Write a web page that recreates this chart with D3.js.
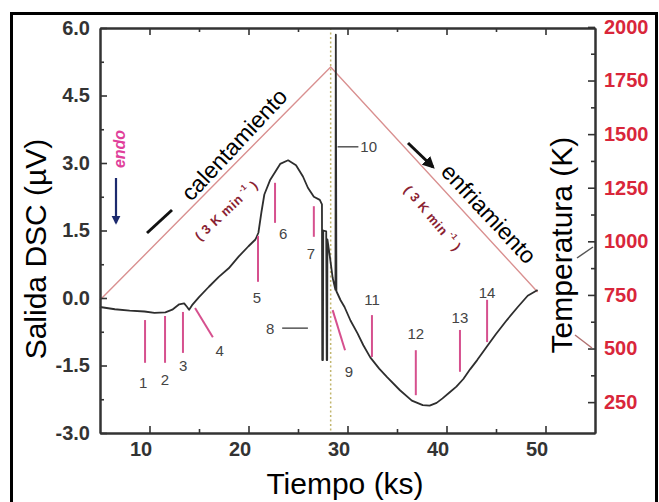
<!DOCTYPE html>
<html>
<head>
<meta charset="utf-8">
<script src="https://cdn.jsdelivr.net/npm/d3@7"></script>
<style>
  body { margin: 0; background: #fff; }
  svg { display: block; font-family: "Liberation Sans", Arial, sans-serif; }
</style>
</head>
<body>
<svg width="659" height="502"></svg>
<script>
// DSC signal (µV) vs time (ks)
const dscTime = [5.0, 6.5, 8.0, 9.5, 10.5, 11.6, 12.3, 13.0, 13.5, 13.8, 14.0, 14.3, 15.0, 16.0, 17.0, 18.0, 19.0, 20.0, 20.7, 21.0, 21.3, 21.6, 22.2, 23.2, 24.0, 24.8, 25.5, 26.0, 26.6, 27.2, 27.42, 27.45, 27.52, 27.55, 27.85, 27.9, 27.95, 27.97, 28.2, 28.5, 28.78, 28.82, 28.88, 29.3, 29.7, 30.3, 31.0, 31.6, 32.3, 33.2, 34.0, 35.3, 36.5, 37.6, 38.3, 39.0, 39.6, 40.3, 41.0, 41.7, 42.4, 43.1, 44.1, 45.0, 46.1, 47.2, 48.2, 49.2];
const dscSignal = [-0.2, -0.25, -0.28, -0.3, -0.33, -0.32, -0.26, -0.14, -0.12, -0.2, -0.26, -0.16, 0.02, 0.25, 0.47, 0.66, 0.92, 1.15, 1.3, 1.45, 1.9, 2.3, 2.63, 2.98, 3.06, 2.95, 2.7, 2.45, 2.25, 2.18, 2.08, -1.38, -1.38, 1.5, 1.48, -1.38, -1.38, 1.3, 0.95, 0.45, 0.18, 5.85, 0.15, -0.05, -0.2, -0.5, -0.78, -1.05, -1.32, -1.57, -1.76, -2.05, -2.28, -2.38, -2.39, -2.33, -2.23, -2.1, -1.97, -1.8, -1.58, -1.38, -1.07, -0.8, -0.49, -0.2, 0.05, 0.18];

// temperature program (K) vs time (ks)
const tempTime = [5.0, 28.3, 49.2];
const tempK = [726, 1813, 764];

// numbered pink markers: line from (t0,v0) to (t1,v1), label at (lt,lv)
const markId = ['1', '2', '3', '4', '5', '6', '7', '9', '11', '12', '13', '14'];
const markT0 = [9.55, 11.57, 13.38, 14.6, 20.96, 22.68, 26.6, 28.5, 32.47, 36.9, 41.36, 44.1];
const markV0 = [-0.49, -0.4, -0.31, -0.22, 1.38, 2.56, 2.04, -0.27, -0.38, -1.16, -0.71, -0.04];
const markT1 = [9.55, 11.57, 13.38, 16.4, 20.96, 22.68, 26.6, 29.75, 32.47, 36.9, 41.36, 44.1];
const markV1 = [-1.44, -1.44, -1.22, -0.87, 0.36, 1.67, 1.36, -1.16, -1.31, -2.16, -1.64, -0.98];
const labelT = [9.35, 11.55, 13.4, 17.1, 20.86, 23.5, 26.3, 30.15, 32.47, 36.9, 41.36, 44.1];
const labelV = [-1.87, -1.82, -1.51, -1.16, 0.02, 1.44, 1.0, -1.64, -0.04, -0.78, -0.44, 0.13];

// axis ticks
const yTicks = [-3.0, -1.5, 0.0, 1.5, 3.0, 4.5, 6.0];
const yMinor = [-2.25, -0.75, 0.75, 2.25, 3.75, 5.25];
const xTicks = [10, 20, 30, 40, 50];
const xMinor = [15, 25, 35, 45];
const tTicks = [250, 500, 750, 1000, 1250, 1500, 1750, 2000];
const tMinor = [375, 625, 875, 1125, 1375, 1625, 1875];

const svg = d3.select('svg');
const plotL = 100, plotR = 595, plotT = 28, plotB = 433;

const x = d3.scaleLinear().domain([5, 55]).range([plotL, plotR]);
const y = d3.scaleLinear().domain([-3, 6]).range([plotB, plotT]);
const yT = d3.scaleLinear().domain([106, 1995]).range([plotB, plotT]);

const pink = '#d6508e';
const ink = '#333';
const fontFam = '"Liberation Sans", Arial, sans-serif';

const defs = svg.append('defs');
defs.append('marker').attr('id', 'headBlack')
  .attr('viewBox', '0 0 10 10').attr('refX', 8).attr('refY', 5)
  .attr('markerWidth', 4).attr('markerHeight', 4).attr('orient', 'auto')
  .append('path').attr('d', 'M0,0L10,5L0,10z').attr('fill', '#111');
defs.append('marker').attr('id', 'headBlue')
  .attr('viewBox', '0 0 10 10').attr('refX', 8).attr('refY', 5)
  .attr('markerWidth', 4).attr('markerHeight', 5).attr('orient', 'auto')
  .append('path').attr('d', 'M0,0L10,5L0,10z').attr('fill', '#1c2a6e');

// outer frame
svg.append('rect')
  .attr('x', 11.5).attr('y', 13.5)
  .attr('width', 645).attr('height', 500)
  .attr('fill', 'none').attr('stroke', '#000').attr('stroke-width', 3);

// vertical dotted line at the temperature peak
svg.append('line')
  .attr('x1', x(28.3)).attr('x2', x(28.3))
  .attr('y1', plotT).attr('y2', plotB)
  .attr('stroke', '#c2b66e').attr('stroke-width', 1.5)
  .attr('stroke-dasharray', '2,2.5');

// temperature line
svg.append('path')
  .datum(d3.range(tempTime.length))
  .attr('fill', 'none')
  .attr('stroke', '#d99090')
  .attr('stroke-width', 1.4)
  .attr('d', d3.line().x(i => x(tempTime[i])).y(i => yT(tempK[i])));

// DSC curve
svg.append('path')
  .datum(d3.range(dscTime.length))
  .attr('fill', 'none')
  .attr('stroke', '#2e2e2e')
  .attr('stroke-width', 1.8)
  .attr('stroke-linejoin', 'round')
  .attr('d', d3.line().x(i => x(dscTime[i])).y(i => y(dscSignal[i])));

// pink markers
svg.append('g')
  .selectAll('line')
  .data(markId)
  .enter()
  .append('line')
  .attr('x1', (_, i) => x(markT0[i])).attr('y1', (_, i) => y(markV0[i]))
  .attr('x2', (_, i) => x(markT1[i])).attr('y2', (_, i) => y(markV1[i]))
  .attr('stroke', pink).attr('stroke-width', 2);

svg.append('g')
  .selectAll('text')
  .data(markId)
  .enter()
  .append('text')
  .attr('x', (_, i) => x(labelT[i]))
  .attr('y', (_, i) => y(labelV[i]))
  .attr('text-anchor', 'middle')
  .attr('dominant-baseline', 'central')
  .attr('font-size', 15)
  .attr('fill', '#444')
  .text(d => d);

// pointers 8 and 10
svg.append('line')
  .attr('x1', x(23.4)).attr('x2', x(26.0))
  .attr('y1', y(-0.67)).attr('y2', y(-0.67))
  .attr('stroke', '#555').attr('stroke-width', 1.5);
svg.append('text')
  .attr('x', x(22.2)).attr('y', y(-0.67))
  .attr('text-anchor', 'middle').attr('dominant-baseline', 'central')
  .attr('font-size', 15).attr('fill', '#444').text('8');
svg.append('line')
  .attr('x1', x(29.0)).attr('x2', x(31.1))
  .attr('y1', y(3.36)).attr('y2', y(3.36))
  .attr('stroke', '#555').attr('stroke-width', 1.5);
svg.append('text')
  .attr('x', x(31.3)).attr('y', y(3.36))
  .attr('dominant-baseline', 'central')
  .attr('font-size', 15).attr('fill', '#444').text('10');

// axes
function styleAxis(g) {
  g.select('.domain').attr('stroke', ink).attr('stroke-width', 2);
  g.selectAll('.tick line').attr('stroke', ink).attr('stroke-width', 1.6);
}

svg.append('g')
  .attr('transform', `translate(${plotL},0)`)
  .call(d3.axisLeft(y).tickValues(yTicks).tickFormat(v => v.toFixed(1))
    .tickSizeInner(-7).tickSizeOuter(0).tickPadding(10))
  .call(styleAxis)
  .call(g => g.selectAll('text').attr('font-size', 20).attr('font-weight', 'bold')
    .attr('fill', ink).attr('font-family', fontFam));
svg.append('g')
  .attr('transform', `translate(${plotL},0)`)
  .call(d3.axisLeft(y).tickValues(yMinor).tickFormat('').tickSizeInner(-4).tickSizeOuter(0))
  .call(styleAxis);

svg.append('g')
  .attr('transform', `translate(0,${plotB})`)
  .call(d3.axisBottom(x).tickValues(xTicks).tickSizeInner(-7).tickSizeOuter(0).tickPadding(9))
  .call(styleAxis)
  .call(g => g.selectAll('text').attr('font-size', 20).attr('font-weight', 'bold')
    .attr('fill', ink).attr('dx', -9).attr('font-family', fontFam));
svg.append('g')
  .attr('transform', `translate(0,${plotB})`)
  .call(d3.axisBottom(x).tickValues(xMinor).tickFormat('').tickSizeInner(-4).tickSizeOuter(0))
  .call(styleAxis);

svg.append('g')
  .attr('transform', `translate(0,${plotT})`)
  .call(d3.axisTop(x).tickValues(xTicks).tickFormat('').tickSizeInner(-7).tickSizeOuter(0))
  .call(styleAxis);
svg.append('g')
  .attr('transform', `translate(0,${plotT})`)
  .call(d3.axisTop(x).tickValues(xMinor).tickFormat('').tickSizeInner(-4).tickSizeOuter(0))
  .call(styleAxis);

svg.append('g')
  .attr('transform', `translate(${plotR},0)`)
  .call(d3.axisRight(yT).tickValues(tTicks).tickFormat(d3.format('d'))
    .tickSizeInner(-7).tickSizeOuter(0).tickPadding(9))
  .call(styleAxis)
  .call(g => g.selectAll('text').attr('font-size', 20).attr('font-weight', 'bold')
    .attr('fill', '#d9263a').attr('font-family', fontFam));
svg.append('g')
  .attr('transform', `translate(${plotR},0)`)
  .call(d3.axisRight(yT).tickValues(tMinor).tickFormat('').tickSizeInner(-4).tickSizeOuter(0))
  .call(styleAxis);

// axis titles
svg.append('text')
  .attr('transform', 'translate(46,249) rotate(-90)')
  .attr('text-anchor', 'middle').attr('font-size', 30).attr('fill', '#000')
  .text('Salida DSC (µV)');
svg.append('text')
  .attr('transform', 'translate(572,245) rotate(-90)')
  .attr('text-anchor', 'middle').attr('font-size', 30).attr('fill', '#000')
  .text('Temperatura (K)');
svg.append('text')
  .attr('x', 345).attr('y', 494)
  .attr('text-anchor', 'middle').attr('font-size', 30).attr('fill', '#000')
  .text('Tiempo (ks)');

// annotations
svg.append('text')
  .attr('transform', 'translate(125,149) rotate(-90)')
  .attr('text-anchor', 'middle').attr('font-size', 16)
  .attr('font-weight', 'bold').attr('font-style', 'italic')
  .attr('fill', '#e0409a').text('endo');
svg.append('line')
  .attr('x1', 116).attr('y1', 178).attr('x2', 116).attr('y2', 223)
  .attr('stroke', '#1c2a6e').attr('stroke-width', 2.2)
  .attr('marker-end', 'url(#headBlue)');

svg.append('line')
  .attr('x1', 147).attr('y1', 233).attr('x2', 172).attr('y2', 210)
  .attr('stroke', '#111').attr('stroke-width', 3);
svg.append('text')
  .attr('transform', 'translate(240,150) rotate(-47)')
  .attr('text-anchor', 'middle').attr('font-size', 23).attr('fill', '#000')
  .text('calentamiento');

svg.append('line')
  .attr('x1', 408).attr('y1', 143).attr('x2', 433).attr('y2', 167)
  .attr('stroke', '#111').attr('stroke-width', 3)
  .attr('marker-end', 'url(#headBlack)');
svg.append('text')
  .attr('transform', 'translate(483,219) rotate(47)')
  .attr('text-anchor', 'middle').attr('font-size', 23).attr('fill', '#000')
  .text('enfriamiento');

function rateLabel(cx, cy, angle) {
  const t = svg.append('text')
    .attr('transform', `translate(${cx},${cy}) rotate(${angle})`)
    .attr('text-anchor', 'middle').attr('dominant-baseline', 'central')
    .attr('font-size', 13).attr('font-weight', 'bold').attr('fill', '#8a2232')
    .attr('letter-spacing', 0.6);
  t.append('tspan').text('( 3 K min');
  t.append('tspan').attr('font-size', 8).attr('dy', -5).text(' -1');
  t.append('tspan').attr('dy', 5).text(' )');
}
rateLabel(226, 210, -43);
rateLabel(433, 218, 50);

// small pointers on the right axis
svg.append('line')
  .attr('x1', 577).attr('y1', 258).attr('x2', 593).attr('y2', 247)
  .attr('stroke', '#555').attr('stroke-width', 1.5);
svg.append('line')
  .attr('x1', 575).attr('y1', 335).attr('x2', 592).attr('y2', 348)
  .attr('stroke', '#b07070').attr('stroke-width', 1.5);
</script>
</body>
</html>
